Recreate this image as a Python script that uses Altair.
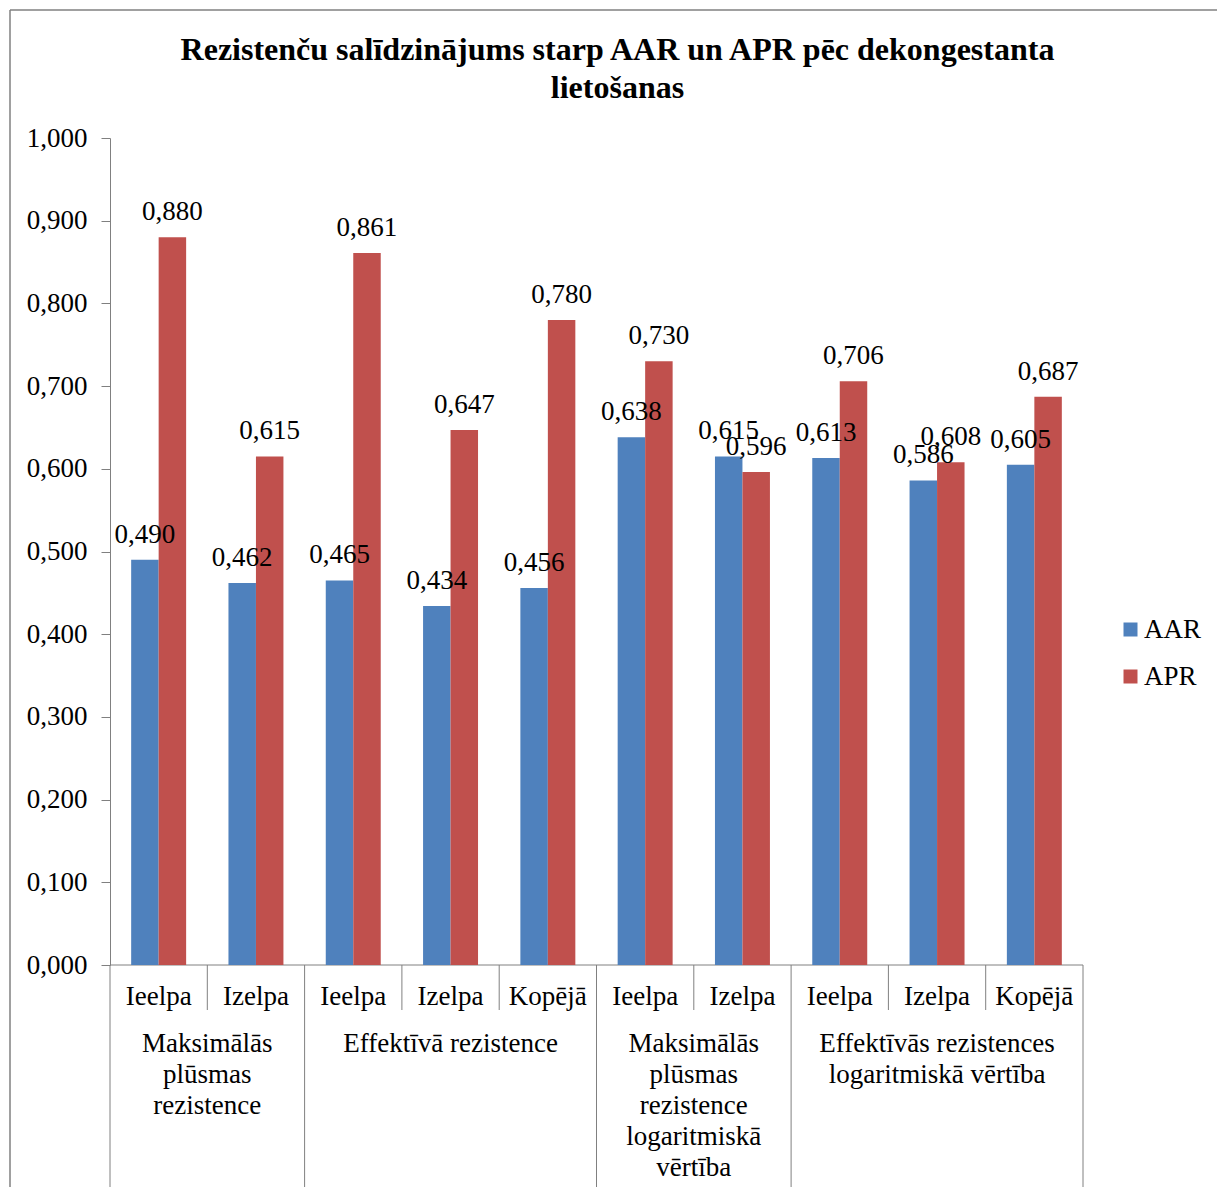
import altair as alt
import pandas as pd

# ---- data ----
groups = [
    "Maksimālās plūsmas rezistence", "Maksimālās plūsmas rezistence",
    "Effektīvā rezistence", "Effektīvā rezistence", "Effektīvā rezistence",
    "Maksimālās plūsmas rezistence logaritmiskā vērtība",
    "Maksimālās plūsmas rezistence logaritmiskā vērtība",
    "Effektīvās rezistences logaritmiskā vērtība",
    "Effektīvās rezistences logaritmiskā vērtība",
    "Effektīvās rezistences logaritmiskā vērtība",
]
group_display = {
    "Maksimālās plūsmas rezistence": "Maksimālās\nplūsmas\nrezistence",
    "Effektīvā rezistence": "Effektīvā rezistence",
    "Maksimālās plūsmas rezistence logaritmiskā vērtība": "Maksimālās\nplūsmas\nrezistence\nlogaritmiskā\nvērtība",
    "Effektīvās rezistences logaritmiskā vērtība": "Effektīvās rezistences\nlogaritmiskā vērtība",
}
subcategories = ["Ieelpa", "Izelpa", "Ieelpa", "Izelpa", "Kopējā",
                 "Ieelpa", "Izelpa", "Ieelpa", "Izelpa", "Kopējā"]
aar = [0.490, 0.462, 0.465, 0.434, 0.456, 0.638, 0.615, 0.613, 0.586, 0.605]
apr = [0.880, 0.615, 0.861, 0.647, 0.780, 0.730, 0.596, 0.706, 0.608, 0.687]
series = ["AAR", "APR"]
colors = ["#4F81BD", "#C0504D"]
y_ticks = [0.0, 0.1, 0.2, 0.3, 0.4, 0.5, 0.6, 0.7, 0.8, 0.9, 1.0]
title_lines = ["Rezistenču salīdzinājums starp AAR un APR pēc dekongestanta", "lietošanas"]

FONT = "Liberation Serif"
FS = 27
GRAY = "#808080"
W, H = 973, 827

rows = []
for i, (g, s, a, p) in enumerate(zip(groups, subcategories, aar, apr)):
    rows.append(dict(k=i, grp=g, sub=s, series="AAR", value=a))
    rows.append(dict(k=i, grp=g, sub=s, series="APR", value=p))
df = pd.DataFrame(rows)

cats = pd.DataFrame(dict(k=list(range(len(subcategories))), sub=subcategories, grp=groups))
cats["gstart"] = [i == 0 or groups[i] != groups[i - 1] for i in range(len(groups))]

# group spans
gr = []
start = 0
for i in range(1, len(groups) + 1):
    if i == len(groups) or groups[i] != groups[start]:
        gr.append(dict(grp=groups[start], label=group_display[groups[start]],
                       start=start, n=i - start))
        start = i
gdf = pd.DataFrame(gr)
g2 = gdf[gdf.n == 2].assign(k=lambda d: d.start)
g3 = gdf[gdf.n == 3].assign(k=lambda d: d.start + 1)

xscale = alt.Scale(paddingInner=0, paddingOuter=0)
xoff = alt.XOffset("series:N", scale=alt.Scale(domain=series, paddingInner=0, paddingOuter=0.77))
color = alt.Color("series:N", scale=alt.Scale(domain=series, range=colors),
                  legend=alt.Legend(title=None, orient="none", legendX=1007, legendY=478,
                                    symbolType="square", symbolSize=196, symbolStrokeWidth=0,
                                    labelFont=FONT, labelFontSize=FS, labelColor="black",
                                    labelOffset=0, rowPadding=19, padding=0))

yaxis = alt.Axis(values=y_ticks, title=None,
                 labelExpr="replace(format(datum.value, '.3f'), '.', ',')",
                 labelFont=FONT, labelFontSize=FS, labelColor="black", labelPadding=14,
                 tickSize=9, tickColor=GRAY, domainColor=GRAY, gridColor=GRAY,
                 gridWidth=1, domainWidth=1)

bars = alt.Chart(df).mark_bar().encode(
    x=alt.X("k:O", scale=xscale, axis=None),
    xOffset=xoff,
    y=alt.Y("value:Q", scale=alt.Scale(domain=[0, 1]), axis=yaxis),
    color=color,
)

labels = alt.Chart(df).transform_calculate(
    lbl="replace(format(datum.value, '.3f'), '.', ',')"
).mark_text(font=FONT, fontSize=FS, color="black", baseline="alphabetic", dy=-17).encode(
    x=alt.X("k:O", scale=xscale, axis=None),
    xOffset=xoff,
    y=alt.Y("value:Q"),
    text="lbl:N",
)

sep_short = alt.Chart(cats[~cats.gstart]).mark_rule(color=GRAY, strokeWidth=1).encode(
    x=alt.X("k:O", scale=xscale, axis=None, bandPosition=0),
    y=alt.value(H), y2=alt.value(H + 45),
)
sep_long = alt.Chart(cats[cats.gstart]).mark_rule(color=GRAY, strokeWidth=1).encode(
    x=alt.X("k:O", scale=xscale, axis=None, bandPosition=0),
    y=alt.value(H), y2=alt.value(H + 222),
)
sep_end = alt.Chart(cats.tail(1)).mark_rule(color=GRAY, strokeWidth=1).encode(
    x=alt.X("k:O", scale=xscale, axis=None, bandPosition=1),
    y=alt.value(H), y2=alt.value(H + 222),
)
base_line = alt.Chart(cats.head(1)).mark_rule(color=GRAY, strokeWidth=1).encode(
    y=alt.datum(0),
)

sub_text = alt.Chart(cats).mark_text(font=FONT, fontSize=FS, color="black",
                                     baseline="alphabetic").encode(
    x=alt.X("k:O", scale=xscale, axis=None),
    y=alt.value(H + 40),
    text="sub:N",
)
grp2_text = alt.Chart(g2).mark_text(font=FONT, fontSize=FS, color="black", baseline="top",
                                    lineBreak="\n", lineHeight=31).encode(
    x=alt.X("k:O", scale=xscale, axis=None, bandPosition=1),
    y=alt.value(H + 66),
    text="label:N",
)
grp3_text = alt.Chart(g3).mark_text(font=FONT, fontSize=FS, color="black", baseline="top",
                                    lineBreak="\n", lineHeight=31).encode(
    x=alt.X("k:O", scale=xscale, axis=None),
    y=alt.value(H + 66),
    text="label:N",
)

frame_left = alt.Chart(cats.head(1)).mark_rule(color=GRAY, strokeWidth=1.5).encode(
    x=alt.value(-100), y=alt.value(-128), y2=alt.value(H + 222))
frame_top = alt.Chart(cats.head(1)).mark_rule(color=GRAY, strokeWidth=1.5).encode(
    x=alt.value(-100), x2=alt.value(W + 140), y=alt.value(-128))

chart = alt.layer(
    frame_left, frame_top, base_line, bars, labels, sep_short, sep_long, sep_end,
    sub_text, grp2_text, grp3_text,
).properties(
    width=W, height=H,
    title=alt.Title(title_lines, font=FONT, fontSize=32, fontWeight="bold", color="black",
                    anchor="middle", dx=21, offset=-96, lineHeight=38),
    autosize=alt.AutoSizeParams(type="none"),
    padding={"left": 110, "top": 138, "right": 134, "bottom": 222},
).configure(background="white").configure_view(strokeWidth=0)

chart.save("out.html", embed_options={"renderer": "svg", "actions": False})
